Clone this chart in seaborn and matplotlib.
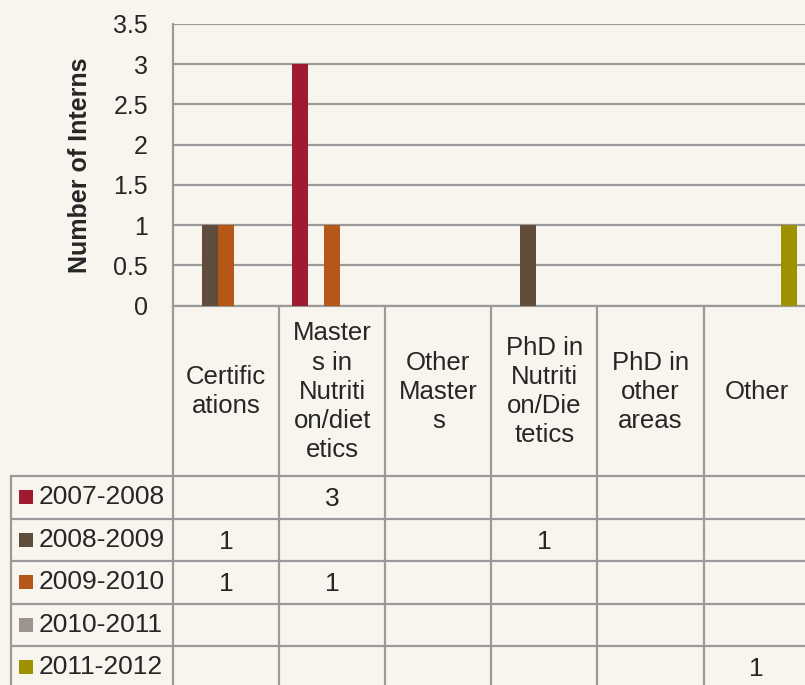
import numpy as np
import pandas as pd
import matplotlib
matplotlib.use('Agg')
import matplotlib.pyplot as plt
import seaborn as sns

# data
categories = ['Certifications', 'Masters in Nutrition/dietetics', 'Other Masters',
              'PhD in Nutrition/Dietetics', 'PhD in other areas', 'Other']
cat_labels = ['Certific\nations', 'Master\ns in\nNutriti\non/diet\netics', 'Other\nMaster\ns',
              'PhD in\nNutriti\non/Die\ntetics', 'PhD in\nother\nareas', 'Other']
seasons = ['2007-2008', '2008-2009', '2009-2010', '2010-2011', '2011-2012']
v_2007 = [np.nan, 3, np.nan, np.nan, np.nan, np.nan]
v_2008 = [1, np.nan, np.nan, 1, np.nan, np.nan]
v_2009 = [1, 1, np.nan, np.nan, np.nan, np.nan]
v_2010 = [np.nan, np.nan, np.nan, np.nan, np.nan, np.nan]
v_2011 = [np.nan, np.nan, np.nan, np.nan, np.nan, 1]
colors = ['#9E1B32', '#5F4C3A', '#B6571A', '#9B938D', '#9E9100']

values = [v_2007, v_2008, v_2009, v_2010, v_2011]
df = pd.DataFrame([(c, s, v) for s, vals in zip(seasons, values)
                   for c, v in zip(categories, vals)],
                  columns=['category', 'season', 'value'])
df['plot_value'] = df['value'].fillna(0)

bg = '#F8F5EE'
line_c = '#9A9A9A'
sns.set_style('white', rc={'axes.facecolor': bg, 'figure.facecolor': bg})
plt.rcParams['font.family'] = ['Liberation Sans', 'DejaVu Sans']

W, H = 805, 685
fig = plt.figure(figsize=(W / 100, H / 100), dpi=100)

# plot area in pixels (right edge runs past the figure, as in the reference)
left, right, top, bottom = 173, 809.7, 24, 305.5
ax = fig.add_axes([left / W, 1 - bottom / H, (right - left) / W, (bottom - top) / H])
sns.barplot(data=df, x='category', y='plot_value', hue='season', order=categories,
            hue_order=seasons, palette=colors, saturation=1, width=0.755, linewidth=0,
            errorbar=None, legend=False, ax=ax, zorder=3)
ax.set_xlim(-0.5, len(categories) - 0.5)
ax.set_ylim(0, 3.5)
ax.set_yticks(np.arange(0, 3.51, 0.5))
ax.set_yticklabels([f'{t:g}' for t in np.arange(0, 3.51, 0.5)], fontsize=18)
ax.tick_params(axis='y', length=0, pad=18)
ax.set_xticks([])
ax.set_xlabel('')
ax.set_ylabel('')
ax.yaxis.grid(True, color=line_c, lw=1.6, zorder=0)
ax.set_axisbelow(True)
for s in ['top', 'right']:
    ax.spines[s].set_visible(False)
for s in ['left', 'bottom']:
    ax.spines[s].set_color(line_c)
    ax.spines[s].set_linewidth(1.6)

fig.text(80 / W, 1 - 165 / H, 'Number of Interns', rotation=90, ha='center', va='center',
         fontsize=18, fontweight='bold')

# data table below the plot, drawn on an overlay in pixel coordinates
tab = fig.add_axes([0, 0, 1, 1], zorder=-1)
tab.set_xlim(0, W)
tab.set_ylim(H, 0)
tab.axis('off')
tab.patch.set_alpha(0)

colw = (right - left) / len(categories)
head_bottom = 476
row_h = 42.5
tab_left = 11
n_rows = len(seasons)
tab_bottom = head_bottom + row_h * n_rows

# vertical lines
for i in range(len(categories) + 1):
    x = left + i * colw
    tab.plot([x, x], [bottom, tab_bottom], color=line_c, lw=1.6)
tab.plot([tab_left, tab_left], [head_bottom, tab_bottom], color=line_c, lw=1.6)
# horizontal lines
for r in range(n_rows + 1):
    y = head_bottom + r * row_h
    tab.plot([tab_left, right], [y, y], color=line_c, lw=1.6)

# header labels
for i, lab in enumerate(cat_labels):
    tab.text(left + (i + 0.5) * colw, (bottom + head_bottom) / 2 + 1, lab, ha='center',
             va='center', fontsize=18.5, linespacing=1.27)

# rows
for r, (s, vals, c) in enumerate(zip(seasons, values, colors)):
    yc = head_bottom + (r + 0.5) * row_h
    tab.scatter([26], [yc], marker='s', s=105, color=c, linewidths=0)
    tab.text(39, yc, s, ha='left', va='center', fontsize=19)
    for i, v in enumerate(vals):
        if not np.isnan(v):
            tab.text(left + (i + 0.5) * colw, yc + 2, f'{v:g}', ha='center', va='center',
                     fontsize=19)

fig.savefig('out.png', dpi=100, facecolor=bg)
